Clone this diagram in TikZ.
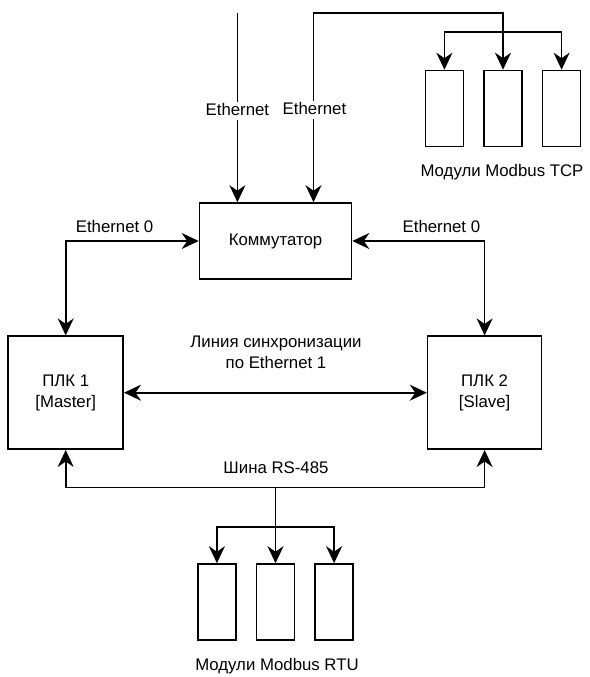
\documentclass[tikz,border=0pt]{standalone}
\usepackage{fontspec}
\setmainfont{Liberation Sans}
\usetikzlibrary{arrows.meta,positioning}
\newcommand{\diagfont}{\fontsize{16.8}{21}\selectfont}

\begin{document}
\begin{tikzpicture}[
    x=1pt, y=-1pt,
    box/.style={
        draw,
        line width=1.6pt,
        inner sep=0pt,
        align=center,
        font=\diagfont
    },
    module/.style={box, minimum width=38, minimum height=76},
    lbl/.style={inner sep=1pt, align=center, font=\diagfont,
        text height=12pt, text depth=3.5pt},
    arrow/.style={-{Stealth[length=17pt, width=16pt, inset=5.5pt]}, line width=1.6pt},
    dblarrow/.style={{Stealth[length=17pt, width=16pt, inset=5.5pt]}-{Stealth[length=17pt, width=16pt, inset=5.5pt]}, line width=1.6pt},
    node distance=19pt
]
\useasboundingbox (0,0) rectangle (589,677);

\node[box, minimum width=152, minimum height=76] (switch) at (275.5,241) {Коммутатор};
\node[box, minimum width=115, minimum height=113] (plc1) at (65.7,392.7) {ПЛК 1\\{}[Master]};
\node[box, minimum width=114, minimum height=113] (plc2) at (484.6,392.7) {ПЛК 2\\{}[Slave]};

% модули Modbus TCP
\node[module] (tcp2) at (503,108.5) {};
\node[module, left=of tcp2] (tcp1) {};
\node[module, right=of tcp2] (tcp3) {};
% модули Modbus RTU
\node[module] (rtu2) at (275.5,602) {};
\node[module, left=of rtu2] (rtu1) {};
\node[module, right=of rtu2] (rtu3) {};

\coordinate (ethA) at (237.4,13);
\coordinate (ethB) at (313.5,13);
\coordinate (tcpfork) at (503,32);
\coordinate (rsbus) at (275.5,487.5);
\coordinate (rtufork) at (275.5,526.7);

\draw[arrow] (ethA) -- (switch.north -| ethA);
\draw[dblarrow] (switch.north -| ethB) -- (ethB) -| (tcp2.north);
\draw[dblarrow] (tcp1.north) |- (tcpfork) -| (tcp3.north);
\draw[dblarrow] (plc1.north) |- (switch.west);
\draw[dblarrow] (plc2.north) |- (switch.east);
\draw[dblarrow] (plc1) -- (plc2);
\draw[dblarrow] (plc1.south) |- (rsbus) -| (plc2.south);
\draw[arrow] (rsbus) -- (rtu2.north);
\draw[dblarrow] (rtu1.north) |- (rtufork) -| (rtu3.north);

\node[lbl, fill=white] (ethAlbl) at (237.4,111) {Ethernet};
\node[lbl, fill=white] (ethBlbl) at (314.5,110) {Ethernet};
\node[lbl] (tcplbl) at (502,172) {Модули Modbus TCP};
\node[lbl] (eth0left) at (114.6,228) {Ethernet 0};
\node[lbl] (eth0right) at (441.4,228) {Ethernet 0};
\node[lbl] (synclbl) at (276,364) {Линия синхронизации\\по Ethernet 1};
\node[lbl] (rslbl) at (276,469) {Шина RS-485};
\node[lbl] (rtulbl) at (277,666) {Модули Modbus RTU};
\end{tikzpicture}
\end{document}
